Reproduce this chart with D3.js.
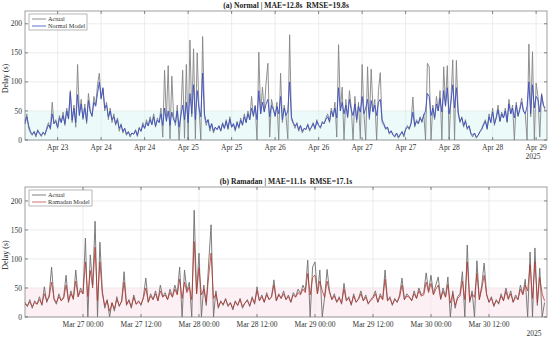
<!DOCTYPE html>
<html>
<head>
<meta charset="utf-8">
<script src="https://cdn.jsdelivr.net/npm/d3@7"></script>
<style>
  html, body { margin: 0; padding: 0; background: #fff; }
  svg { display: block; font-family: "Liberation Serif", "DejaVu Serif", serif; }
  text { white-space: pre; }
</style>
</head>
<body>
<svg id="chart" width="550" height="339"></svg>
<script>
// half-hourly samples
var normalStart = new Date(2025, 3, 23, 3, 0);
var normalEnd = new Date(2025, 3, 29, 3, 0);
var normalActual = [
  32, 45, 20, 12, 8, 15, 5, 18, 10, 6, 14, 8,
  22, 30, 18, 65, 28, 35, 20, 42, 30, 48, 25, 55,
  38, 85, 30, 60, 22, 130, 45, 70, 35, 62, 28, 80,
  52, 40, 75, 60, 95, 115, 70, 88, 50, 65, 35, 55,
  30, 45, 25, 38, 15, 28, 12, 20, 8, 15, 5, 12,
  10, 18, 6, 22, 15, 30, 20, 35, 25, 40, 28, 45,
  22, 38, 30, 55, 5, 120, 35, 128, 2, 110, 40, 25,
  60, 0, 45, 120, 3, 130, 0, 172, 40, 157, 2, 150,
  55, 0, 178, 40, 25, 35, 15, 28, 12, 22, 18, 25,
  15, 30, 20, 35, 18, 40, 22, 28, 15, 32, 20, 38,
  25, 45, 30, 50, 35, 75, 40, 60, 0, 151, 45, 91,
  50, 98, 132, 5, 70, 55, 40, 65, 0, 115, 30, 60,
  40, 2, 181, 35, 28, 20, 30, 15, 25, 12, 20, 18,
  28, 15, 22, 30, 18, 35, 25, 20, 32, 28, 38, 45,
  30, 55, 40, 65, 5, 164, 50, 91, 0, 70, 38, 85,
  55, 0, 75, 30, 65, 2, 130, 45, 0, 126, 35, 122,
  50, 70, 0, 85, 116, 30, 25, 18, 22, 10, 15, 8,
  5, 12, 3, 8, 15, 5, 20, 25, 18, 30, 74, 22,
  35, 28, 40, 30, 45, 0, 132, 126, 0, 60, 35, 75,
  50, 85, 0, 126, 60, 128, 2, 70, 138, 0, 137, 45,
  30, 40, 22, 35, 18, 25, 10, 5, 12, 3, 8, 15,
  20, 28, 35, 18, 45, 30, 55, 25, 40, 60, 32, 48,
  38, 55, 30, 70, 45, 60, 0, 65, 40, 55, 72, 50,
  45, 0, 165, 40, 152, 0, 98, 75, 5, 80, 60, 50
];
var normalModel = [
  28, 40, 25, 15, 10, 14, 8, 16, 12, 8, 13, 10,
  18, 26, 20, 45, 28, 32, 22, 38, 30, 42, 28, 50,
  36, 82, 34, 55, 30, 78, 42, 62, 38, 55, 32, 68,
  48, 42, 65, 58, 80, 100, 72, 90, 55, 60, 40, 50,
  35, 40, 28, 35, 20, 26, 15, 20, 10, 14, 8, 12,
  10, 16, 8, 20, 15, 26, 20, 30, 24, 35, 26, 40,
  24, 34, 30, 45, 25, 55, 32, 50, 25, 48, 35, 30,
  50, 22, 42, 60, 35, 65, 30, 80, 45, 95, 35, 85,
  55, 40, 115, 45, 30, 35, 20, 28, 15, 22, 18, 24,
  16, 28, 20, 32, 20, 36, 22, 28, 18, 30, 22, 34,
  26, 40, 30, 45, 35, 55, 42, 58, 35, 85, 45, 65,
  48, 62, 70, 40, 60, 52, 42, 58, 45, 75, 35, 55,
  42, 50, 100, 40, 30, 24, 28, 18, 25, 15, 20, 18,
  26, 18, 22, 28, 20, 32, 25, 22, 30, 28, 35, 40,
  32, 50, 40, 55, 38, 90, 50, 65, 45, 60, 40, 70,
  52, 42, 62, 35, 58, 48, 75, 45, 55, 70, 38, 68,
  48, 60, 42, 65, 70, 35, 28, 20, 22, 12, 16, 10,
  6, 12, 5, 10, 14, 8, 18, 22, 20, 28, 48, 25,
  32, 28, 38, 32, 42, 50, 80, 75, 42, 55, 38, 62,
  50, 72, 48, 85, 58, 90, 45, 65, 95, 55, 90, 48,
  32, 38, 25, 32, 20, 24, 12, 8, 12, 5, 8, 14,
  18, 26, 32, 20, 40, 30, 48, 28, 38, 52, 32, 45,
  38, 50, 32, 62, 45, 55, 38, 60, 42, 52, 65, 50,
  45, 58, 100, 45, 95, 55, 75, 70, 48, 78, 60, 55
];

var ramadanStart = new Date(2025, 2, 26, 12, 0);
var ramadanEnd = new Date(2025, 2, 31, 0, 0);
var ramadanActual = [
  25, 18, 30, 15, 28, 22, 35, 20, 52, 25, 38, 86,
  30, 22, 40, 28, 35, 72, 25, 45, 30, 81, 35, 50,
  40, 136, 0, 107, 55, 165, 0, 129, 45, 15, 30, 0,
  25, 10, 35, 18, 28, 78, 20, 30, 15, 38, 22, 28,
  20, 35, 67, 25, 40, 30, 45, 28, 55, 35, 42, 30,
  48, 35, 55, 40, 86, 0, 81, 45, 60, 0, 184, 40,
  110, 0, 55, 20, 93, 159, 0, 45, 15, 28, 20, 32,
  18, 25, 12, 28, 20, 32, 15, 24, 30, 18, 35, 22,
  52, 28, 38, 25, 42, 30, 35, 64, 28, 40, 32, 45,
  30, 38, 25, 42, 35, 48, 40, 55, 45, 98, 0, 86,
  95, 40, 81, 0, 35, 82, 45, 30, 40, 25, 35, 22,
  58, 28, 35, 20, 40, 25, 32, 45, 28, 38, 22, 30,
  35, 45, 25, 40, 30, 81, 28, 35, 20, 32, 25, 38,
  67, 30, 40, 35, 28, 45, 32, 50, 38, 42, 76, 45,
  72, 40, 55, 69, 30, 50, 35, 69, 0, 45, 15, 35,
  40, 78, 0, 124, 25, 45, 0, 97, 30, 55, 93, 40,
  25, 35, 18, 30, 22, 40, 28, 50, 32, 45, 25, 38,
  30, 55, 40, 65, 0, 112, 0, 119, 20, 84, 0, 25
];
var ramadanModel = [
  22, 20, 26, 18, 25, 22, 30, 22, 40, 28, 34, 60,
  32, 25, 35, 28, 32, 55, 28, 40, 32, 62, 35, 45,
  40, 95, 35, 80, 50, 120, 28, 95, 40, 20, 28, 10,
  24, 14, 30, 20, 26, 60, 22, 28, 18, 34, 22, 26,
  22, 32, 50, 26, 36, 30, 40, 28, 45, 34, 38, 30,
  42, 34, 48, 38, 65, 32, 60, 42, 52, 30, 130, 40,
  85, 38, 48, 25, 70, 110, 32, 40, 18, 26, 22, 30,
  20, 24, 15, 26, 20, 30, 18, 24, 28, 20, 32, 24,
  45, 28, 35, 26, 38, 30, 34, 55, 28, 38, 32, 40,
  30, 35, 26, 38, 34, 42, 38, 48, 42, 75, 38, 68,
  72, 40, 62, 45, 34, 62, 42, 30, 36, 26, 32, 24,
  48, 28, 32, 22, 36, 26, 30, 40, 28, 34, 24, 28,
  32, 40, 26, 36, 30, 65, 28, 32, 22, 30, 26, 34,
  55, 30, 36, 34, 28, 40, 32, 45, 36, 38, 60, 42,
  58, 38, 48, 55, 32, 44, 34, 56, 24, 40, 20, 32,
  36, 62, 30, 95, 28, 40, 34, 75, 30, 48, 72, 38,
  26, 32, 20, 28, 24, 36, 28, 44, 30, 40, 26, 34,
  30, 48, 38, 55, 45, 90, 32, 95, 25, 68, 40, 28
];

var yTicks = [0, 50, 100, 150, 200];

var svg = d3.select('#chart');

function drawPanel(opt) {
  var left = 25, right = 547;
  var x = d3.scaleTime().domain([opt.start, opt.end]).range([left, right]);
  var y = d3.scaleLinear().domain([0, opt.ymax]).range([opt.bottom, opt.top]);
  var g = svg.append('g');

  var times = opt.actual.map(function (d, i) {
    return new Date(opt.start.getTime() + i * 30 * 60 * 1000);
  });
  var xTicks = x.ticks(d3.timeHour.every(12)).filter(function (t) {
    return x(t) > left + 2 && x(t) < right - 2;
  });

  // grid
  g.selectAll('.gx').data(xTicks).enter().append('line')
    .attr('x1', function (d) { return x(d); })
    .attr('x2', function (d) { return x(d); })
    .attr('y1', opt.top).attr('y2', opt.bottom)
    .attr('stroke', '#e4e4e4').attr('stroke-width', 0.7);
  g.selectAll('.gy').data(yTicks).enter().append('line')
    .attr('x1', left).attr('x2', right)
    .attr('y1', function (d) { return y(d); })
    .attr('y2', function (d) { return y(d); })
    .attr('stroke', '#e4e4e4').attr('stroke-width', 0.7);

  // faint band behind the low values
  g.append('rect')
    .attr('x', left).attr('y', y(50))
    .attr('width', right - left).attr('height', y(0) - y(50))
    .attr('fill', opt.band);

  var line = d3.line()
    .x(function (d, i) { return x(times[i]); })
    .y(function (d) { return y(d); });

  g.append('path').datum(opt.actual)
    .attr('d', line).attr('fill', 'none')
    .attr('stroke', opt.actualColor).attr('stroke-width', 0.9)
    .attr('stroke-linejoin', 'round');
  g.append('path').datum(opt.model)
    .attr('d', line).attr('fill', 'none')
    .attr('stroke', opt.modelColor).attr('stroke-width', 1)
    .attr('stroke-opacity', opt.modelOpacity)
    .attr('stroke-linejoin', 'round');

  // box and ticks
  g.append('rect')
    .attr('x', left).attr('y', opt.top)
    .attr('width', right - left).attr('height', opt.bottom - opt.top)
    .attr('fill', 'none').attr('stroke', '#777').attr('stroke-width', 0.7);

  xTicks.forEach(function (t) {
    g.append('line').attr('x1', x(t)).attr('x2', x(t))
      .attr('y1', opt.bottom).attr('y2', opt.bottom - 3)
      .attr('stroke', '#555').attr('stroke-width', 0.7);
    g.append('line').attr('x1', x(t)).attr('x2', x(t))
      .attr('y1', opt.top).attr('y2', opt.top + 3)
      .attr('stroke', '#555').attr('stroke-width', 0.7);
  });
  yTicks.forEach(function (v) {
    g.append('line').attr('x1', left).attr('x2', left + 3)
      .attr('y1', y(v)).attr('y2', y(v))
      .attr('stroke', '#555').attr('stroke-width', 0.7);
    g.append('line').attr('x1', right).attr('x2', right - 3)
      .attr('y1', y(v)).attr('y2', y(v))
      .attr('stroke', '#555').attr('stroke-width', 0.7);
  });

  g.selectAll('.xl').data(xTicks).enter().append('text')
    .attr('x', function (d) { return x(d); })
    .attr('y', opt.bottom + 10)
    .attr('text-anchor', 'middle')
    .attr('font-size', 7.5).attr('fill', '#333')
    .text(function (d) { return d3.timeFormat(opt.fmt)(d); });
  g.append('text')
    .attr('x', opt.yearX).attr('y', opt.bottom + 19)
    .attr('text-anchor', 'middle')
    .attr('font-size', 7.5).attr('fill', '#333')
    .text('2025');

  g.selectAll('.yl').data(yTicks).enter().append('text')
    .attr('x', left - 3).attr('y', function (d) { return y(d) + 2.6; })
    .attr('text-anchor', 'end')
    .attr('font-size', 7.5).attr('fill', '#333')
    .text(function (d) { return d; });

  g.append('text')
    .attr('transform', 'translate(8,' + ((opt.top + opt.bottom) / 2 + 3) + ') rotate(-90)')
    .attr('text-anchor', 'middle')
    .attr('font-size', 8).attr('fill', '#222')
    .text('Delay (s)');

  g.append('text')
    .attr('x', 286).attr('y', opt.top - 3)
    .attr('text-anchor', 'middle')
    .attr('font-size', 7.6).attr('font-weight', 'bold').attr('fill', '#222')
    .text(opt.title);

  // legend
  var lg = g.append('g').attr('transform', 'translate(29,' + (opt.top + 3) + ')');
  lg.append('rect').attr('width', opt.legendW).attr('height', 16)
    .attr('fill', '#fff').attr('stroke', '#888').attr('stroke-width', 0.6);
  var items = [
    { name: 'Actual', color: opt.actualColor, op: 1 },
    { name: opt.modelName, color: opt.modelColor, op: opt.modelOpacity }
  ];
  items.forEach(function (it, i) {
    var yy = 5 + i * 7;
    lg.append('line').attr('x1', 3).attr('x2', 17)
      .attr('y1', yy).attr('y2', yy)
      .attr('stroke', it.color).attr('stroke-opacity', it.op).attr('stroke-width', 0.9);
    lg.append('text').attr('x', 19).attr('y', yy + 2.3)
      .attr('font-size', 6.3).attr('fill', '#333').text(it.name);
  });
}

drawPanel({
  start: normalStart, end: normalEnd, ymax: 222,
  top: 11, bottom: 140,
  actual: normalActual, model: normalModel,
  actualColor: '#858585', modelColor: '#3d4fbf', modelOpacity: 0.9,
  band: 'rgba(215,245,245,0.45)',
  fmt: '%b %d', yearX: 533,
  title: '(a) Normal | MAE=12.8s  RMSE=19.8s',
  modelName: 'Normal Model', legendW: 58
});

drawPanel({
  start: ramadanStart, end: ramadanEnd, ymax: 224,
  top: 187, bottom: 317,
  actual: ramadanActual, model: ramadanModel,
  actualColor: '#6f6f6f', modelColor: '#b3302a', modelOpacity: 0.75,
  band: 'rgba(252,225,235,0.5)',
  fmt: '%b %d %H:%M', yearX: 534,
  title: '(b) Ramadan | MAE=11.1s  RMSE=17.1s',
  modelName: 'Ramadan Model', legendW: 63
});
</script>
</body>
</html>
